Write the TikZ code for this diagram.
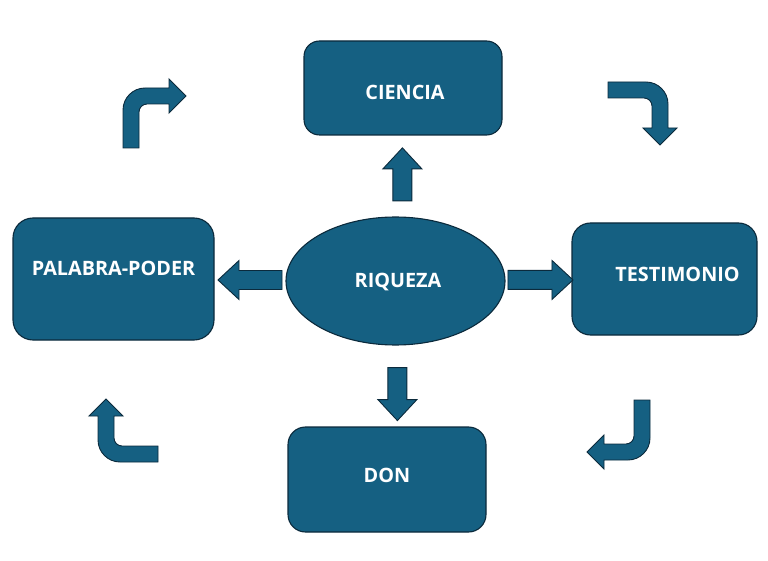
\documentclass[tikz,border=0pt]{standalone}
\usepackage{fontspec}
\setmainfont{Open Sans}
\usetikzlibrary{shapes.geometric,calc}
\definecolor{accblue}{HTML}{156082}
\definecolor{accedge}{HTML}{0B2A3C}
\begin{document}
\begin{tikzpicture}[
        x=1pt,y=-1pt,
        line width=1.1pt,
        font=\bfseries\fontsize{19.8}{23}\selectfont
    ]
    \tikzset{
        conceptbox/.style = {rectangle, draw=accedge, fill=accblue, inner sep=0pt},
        boxtext/.style = {text=white, inner sep=0pt},
        arrowfill/.style = {draw=accedge, fill=accblue, line width=0.9pt},
        blockarrow/.pic = {
            \draw[arrowfill] (-#1/2,-9.5) -- (#1/2-21,-9.5) -- (#1/2-21,-19.5) -- (#1/2,0)
                -- (#1/2-21,19.5) -- (#1/2-21,9.5) -- (-#1/2,9.5) -- cycle;
        },
        bentarrow/.pic = {
            \draw[arrowfill] (0,60) -- (0,22) .. controls (0,9.9) and (9.9,0) .. (22,0)
                -- (46,0) -- (46,-9) -- (63,8) -- (46,25) -- (46,16) -- (24,16)
                .. controls (19.6,16) and (16,19.6) .. (16,24) -- (16,60) -- cycle;
        },
    }
    \useasboundingbox (0,0) rectangle (768,561);
    % concepts
    \node[conceptbox, rounded corners=15.5pt, minimum width=198pt, minimum height=94pt,
        label={[boxtext,shift={(2,4)}]center:CIENCIA}] (cien) at (403,88) {};
    \node[conceptbox, rounded corners=20pt, minimum width=201pt, minimum height=122pt,
        label={[boxtext,shift={(0,-11)}]center:PALABRA-PODER}] (pal) at (113.5,279) {};
    \node[conceptbox, rounded corners=18.5pt, minimum width=185pt, minimum height=112pt,
        label={[boxtext,shift={(13,-5)}]center:TESTIMONIO}] (test) at (664.5,279) {};
    \node[conceptbox, rounded corners=17.5pt, minimum width=198pt, minimum height=105pt,
        label={[boxtext,shift={(0,-4.5)}]center:DON}] (don) at (387,479.5) {};
    \node[ellipse, draw=accedge, fill=accblue, inner sep=0pt, minimum width=219pt, minimum height=128pt,
        label={[boxtext,shift={(2.5,1)}]center:RIQUEZA}] (riq) at (395.5,281) {};
    % arrows out of the centre
    \pic[rotate=90] at ($(riq.north)!0.52!(cien.south)+(3,0)$) {blockarrow=53};
    \pic[rotate=180] at ($(riq.west)!0.5!(pal.east)$) {blockarrow=64};
    \pic at ($(riq.east)!0.53!(test.west)$) {blockarrow=65};
    \pic[rotate=-90] at ($(riq.south)!0.6!(don.north)+(7,0)$) {blockarrow=53};
    % cycle round the outside
    \pic at (123,88) {bentarrow};
    \pic[rotate=-90] at (668,82) {bentarrow};
    \pic[rotate=180] at (650,460) {bentarrow};
    \pic[rotate=90] at (98,462) {bentarrow};
\end{tikzpicture}
\end{document}
